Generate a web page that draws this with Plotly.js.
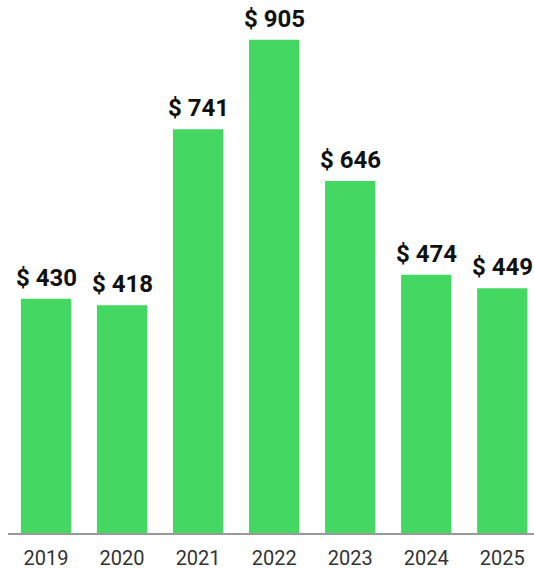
<!DOCTYPE html>
<html>
<head>
<meta charset="utf-8">
<script src="https://cdn.plot.ly/plotly-3.0.1.min.js"></script>
<style>html,body{margin:0;padding:0;background:#fff;}#chart{width:534px;height:570px;}</style>
</head>
<body>
<div id="chart"></div>
<script>
const years = ["2019", "2020", "2021", "2022", "2023", "2024", "2025"];
const values = [430, 418, 741, 905, 646, 474, 449];
const labels = values.map(v => "$ " + v);

const annotations = years.map((yr, i) => ({
  x: i,
  y: values[i],
  xref: "x",
  yref: "y",
  text: labels[i],
  showarrow: false,
  yanchor: "bottom",
  xanchor: "center",
  yshift: 5,
  font: {family: "Roboto", size: 24, color: "#111", weight: "bold"}
}));

Plotly.newPlot("chart", [{
  type: "bar",
  x: years,
  y: values,
  marker: {color: "#44d762"},
  hoverinfo: "none"
}], {
  width: 534,
  height: 570,
  margin: {l: 8, r: 0, t: 0, b: 37},
  bargap: 0.339,
  paper_bgcolor: "#fff",
  plot_bgcolor: "#fff",
  showlegend: false,
  annotations: annotations,
  xaxis: {
    type: "category",
    range: [-0.5, 6.417],
    showline: true,
    linecolor: "#999",
    linewidth: 1.5,
    ticks: "outside",
    ticklen: 6,
    tickcolor: "rgba(0,0,0,0)",
    tickfont: {family: "Roboto", size: 20, color: "#333"},
    showgrid: false,
    zeroline: false
  },
  yaxis: {
    range: [0, 978],
    visible: false,
    showgrid: false,
    zeroline: false
  }
}, {displayModeBar: false, staticPlot: true});
</script>
</body>
</html>
